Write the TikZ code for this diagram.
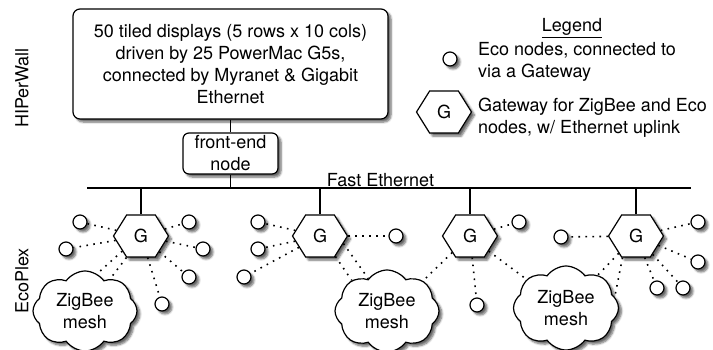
\documentclass[tikz,border=0pt]{standalone}
\usepackage{fontspec}
\setmainfont{TeX Gyre Heros}
\usetikzlibrary{shapes.symbols,shadows.blur}

\begin{document}
\begin{tikzpicture}[x=1pt,y=-1pt,
  font=\fontsize{18}{22}\selectfont,
  softshadow/.style={blur shadow={shadow xshift=3pt,shadow yshift=-3pt,
      shadow opacity=60,shadow blur steps=6}},
  txt/.style={inner sep=0pt},
  roundbox/.style={draw,line width=1.2pt,rounded corners=7pt,fill=white,
      softshadow,align=center,inner sep=0pt},
  gwhex/.style={draw,line width=1.2pt,fill=white,softshadow,signal,
      signal to=east and west,signal pointer angle=116,
      minimum width=55pt,minimum height=42pt,inner sep=0pt},
  ecoring/.style={draw,circle,line width=1.2pt,fill=white,softshadow,
      minimum size=14pt,inner sep=0pt},
  meshcloud/.style={draw,cloud,cloud puffs=8,cloud puff arc=110,cloud ignores aspect,
      line width=1.2pt,fill=white,softshadow,align=center,inner sep=0pt},
  netwire/.style={line width=1.3pt},
  radiolink/.style={line width=1.6pt,dash pattern=on 1.6pt off 5.4pt},
]
\useasboundingbox (0,0) rectangle (713,350);

% side labels
\node[txt,rotate=90] (hiperwall) at (22,88) {HIPerWall};
\node[txt,rotate=90] (ecoplex) at (22,281) {EcoPlex};

% display wall and its front-end
\node[roundbox,minimum width=315pt,minimum height=110pt] (wall) at (230.5,64)
  {50 tiled displays (5 rows x 10 cols)\\driven by 25 PowerMac G5s,\\connected by Myranet \& Gigabit\\Ethernet};
\node[roundbox,rounded corners=6pt,minimum width=95pt,minimum height=41pt] (fe) at (230.5,153.5)
  {front-end\\node};

% Fast Ethernet bus
\coordinate (busL) at (87,188);
\coordinate (busR) at (691,188);
\draw[netwire] (busL) -- (busR);
\draw[netwire] (wall) -- (fe);
\draw[netwire] (fe) -- (fe.south |- busL);
\node[txt,anchor=base] (fast) at (380.5,186.5) {Fast Ethernet};

% gateways
\node[gwhex] (g1) at (141,236) {G};
\node[gwhex] (g2) at (320,236) {G};
\node[gwhex] (g3) at (470,236) {G};
\node[gwhex] (g4) at (636,236) {G};
\foreach \g in {g1,g2,g3,g4}
  \draw[netwire] (\g.north) -- (\g.north |- busL);

% ZigBee meshes
\node[meshcloud,minimum width=104pt,minimum height=80pt] (m1) at (85,311) {ZigBee\\mesh};
\node[meshcloud,minimum width=104pt,minimum height=82pt] (m2) at (387,311) {ZigBee\\mesh};
\node[meshcloud,minimum width=105pt,minimum height=84pt] (m3) at (566,308) {ZigBee\\mesh};

% eco nodes
\node[ecoring] (e11) at (80,222) {};
\node[ecoring] (e12) at (66,249) {};
\node[ecoring] (e13) at (189,222) {};
\node[ecoring] (e14) at (203,249) {};
\node[ecoring] (e15) at (189,277) {};
\node[ecoring] (e16) at (162,304) {};
\node[ecoring] (e21) at (258,222) {};
\node[ecoring] (e22) at (258,249) {};
\node[ecoring] (e23) at (244,277) {};
\node[ecoring] (e24) at (396,236) {};
\node[ecoring] (e31) at (519,222) {};
\node[ecoring] (e32) at (477,305) {};
\node[ecoring] (e41) at (561,237) {};
\node[ecoring] (e42) at (698,222) {};
\node[ecoring] (e43) at (698,262) {};
\node[ecoring] (e44) at (657,288) {};
\node[ecoring] (e45) at (683,288) {};

% radio links
\foreach \e in {e11,e12,e13,e14,e15,e16} \draw[radiolink] (g1) -- (\e);
\foreach \e in {e21,e22,e23,e24} \draw[radiolink] (g2) -- (\e);
\foreach \e in {e31,e32} \draw[radiolink] (g3) -- (\e);
\foreach \e in {e41,e42,e43,e44,e45} \draw[radiolink] (g4) -- (\e);
\draw[radiolink] (g1.219) -- (m1.72);
\draw[radiolink] (g1.236) -- (m1.52);
\draw[radiolink] (g2.307) -- (m2.139);
\draw[radiolink] (g2.342) -- (m2.120);
\draw[radiolink] (g3.223) -- (m2.40);
\draw[radiolink] (g3.321) -- (m3.144);
\draw[radiolink] (g4.225) -- (m3.46);
\draw[radiolink] (g4.238) -- (m3.13);

% legend
\node[txt,anchor=base] (legend) at (572,32) {\underline{Legend}};
\node[ecoring] (legeco) at (450,59) {};
\node[gwhex] (leggw) at (444,112) {G};
\node[txt,align=left,anchor=base west] (legecotxt) at (478,78) {Eco nodes, connected to\\via a Gateway};
\node[txt,align=left,anchor=base west] (leggwtxt) at (478,134) {Gateway for ZigBee and Eco\\nodes, w/ Ethernet uplink};
\end{tikzpicture}
\end{document}
